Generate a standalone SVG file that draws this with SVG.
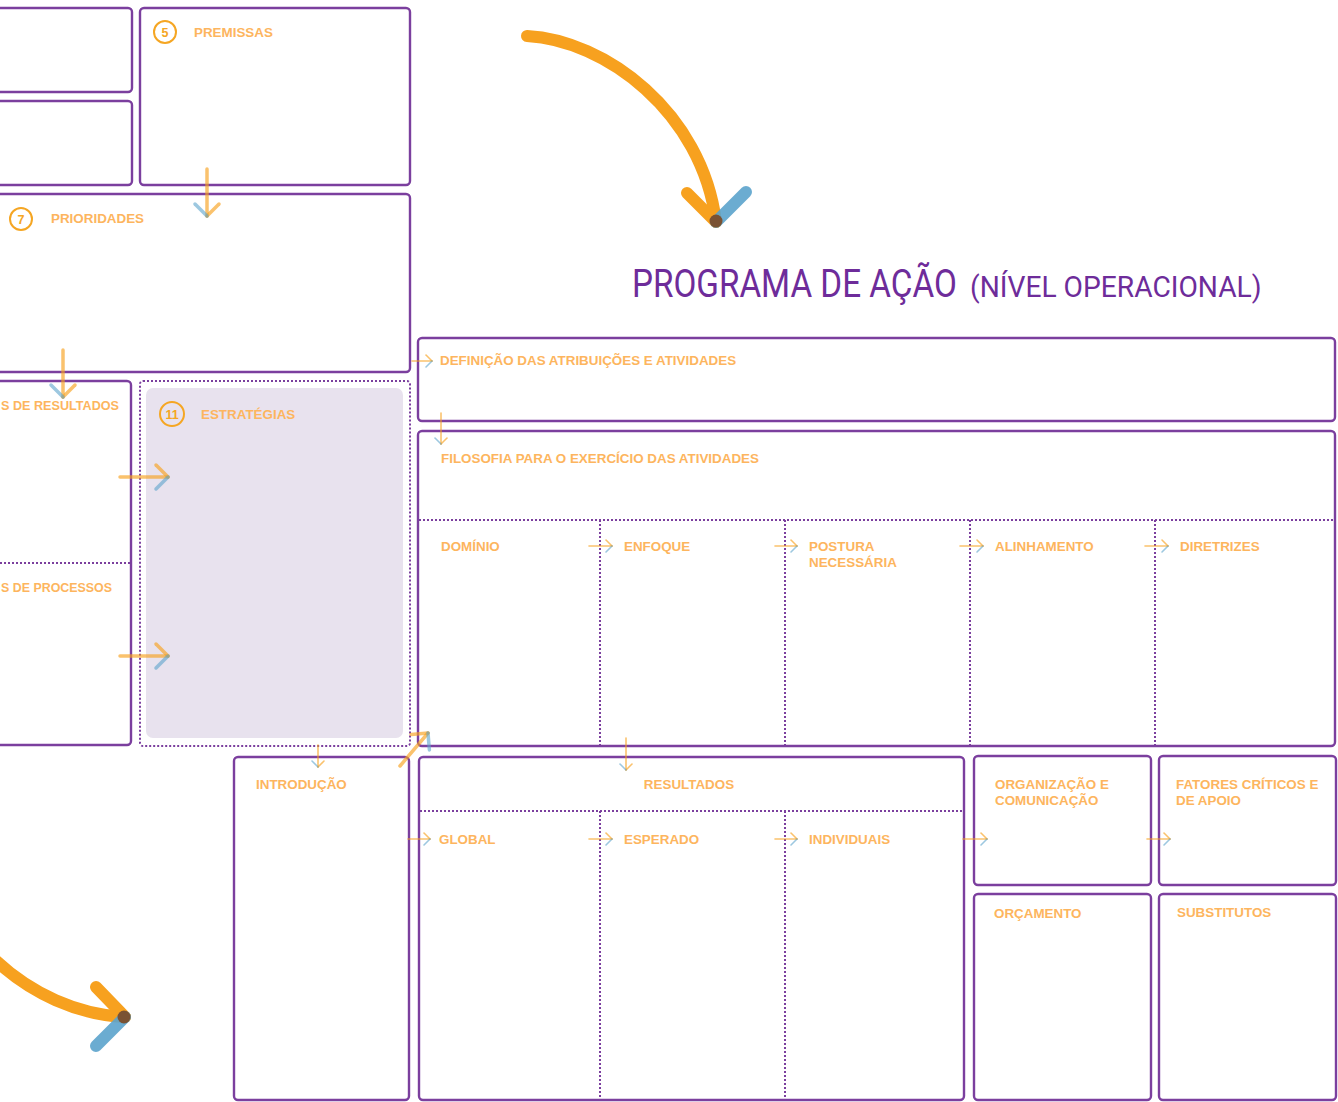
<svg xmlns="http://www.w3.org/2000/svg" width="1338" height="1102" viewBox="0 0 1338 1102">
<style>
.box{fill:#fff;stroke:#7B3F9E;stroke-width:2.4}
.dot{fill:none;stroke:#7B3F9E;stroke-width:2;stroke-dasharray:2 2}
.lbl{font-family:"Liberation Sans",Arial,sans-serif;font-weight:bold;font-size:13.4px;fill:#FDB55E}
.num{font-family:"Liberation Sans",Arial,sans-serif;font-weight:bold;font-size:12.5px;fill:#F5A623;text-anchor:middle}
.circ{fill:none;stroke:#F5A623;stroke-width:2}
.sm{fill:none;stroke:#F7A11F;stroke-opacity:.65;stroke-width:1.6;stroke-linecap:round}
.md{fill:none;stroke:#F7A11F;stroke-opacity:.65;stroke-width:3.5;stroke-linecap:round}
.big{fill:none;stroke:#F7A11F;stroke-width:12;stroke-linecap:round}
.bigb{fill:none;stroke:#5BA3CC;stroke-opacity:.9;stroke-width:12;stroke-linecap:round}
.title{font-family:Roboto,"Liberation Sans",sans-serif;fill:#6E2C9A}
</style>
<defs>
<marker id="msm" markerUnits="userSpaceOnUse" orient="auto" overflow="visible" markerWidth="1" markerHeight="1" refX="0" refY="0">
<path d="M-6,-6 L0,0" fill="none" stroke="#F7A11F" stroke-opacity=".65" stroke-width="1.6" stroke-linecap="round"/>
<path d="M0,0 L-6,6" fill="none" stroke="#5BA3CC" stroke-opacity=".6" stroke-width="1.6" stroke-linecap="round"/>
</marker>
<marker id="mmd" markerUnits="userSpaceOnUse" orient="auto" overflow="visible" markerWidth="1" markerHeight="1" refX="0" refY="0">
<path d="M-12,-12 L0,0" fill="none" stroke="#F7A11F" stroke-opacity=".65" stroke-width="3.5" stroke-linecap="round"/>
<path d="M0,0 L-12,12" fill="none" stroke="#5BA3CC" stroke-opacity=".6" stroke-width="3.5" stroke-linecap="round"/>
</marker>
</defs>
<rect width="1338" height="1102" fill="#fff"/>

<g id="box-top-left-1"><rect class="box" x="-20" y="8" width="152" height="84" rx="4"/></g>
<g id="box-top-left-2"><rect class="box" x="-20" y="101" width="152" height="84" rx="4"/></g>
<g id="node-premissas">
<rect class="box" x="140" y="8" width="270" height="177" rx="4"/>
<circle class="circ" cx="165" cy="32" r="11"/>
<text class="num" x="165" y="36.5">5</text>
<text class="lbl" x="194" y="37">PREMISSAS</text>
</g>
<g id="node-prioridades">
<rect class="box" x="-20" y="194" width="430" height="178" rx="4"/>
<circle class="circ" cx="21" cy="219" r="11"/>
<text class="num" x="21" y="223.5">7</text>
<text class="lbl" x="51" y="223">PRIORIDADES</text>
</g>
<g id="node-indicadores">
<rect class="box" x="-20" y="381" width="151" height="364" rx="4"/>
<line class="dot" x1="-20" y1="563" x2="130" y2="563"/>
<text class="lbl" x="1" y="410" textLength="118" lengthAdjust="spacingAndGlyphs">S DE RESULTADOS</text>
<text class="lbl" x="1" y="592" textLength="111" lengthAdjust="spacingAndGlyphs">S DE PROCESSOS</text>
</g>
<g id="node-estrategias">
<rect class="dot" x="140" y="381" width="270" height="365" rx="3"/>
<rect x="146" y="388" width="257" height="350" rx="7" fill="#E8E2EE"/>
<circle class="circ" cx="172" cy="414" r="12"/>
<text class="num" x="172" y="418.5" font-size="11.5">11</text>
<text class="lbl" x="201" y="419">ESTRATÉGIAS</text>
</g>

<g id="title">
<text class="title" transform="translate(632,297) scale(0.875,1)" font-size="38">PROGRAMA DE AÇÃO</text>
<text class="title" transform="translate(970,297) scale(0.94,1)" font-size="30">(NÍVEL OPERACIONAL)</text>
</g>

<g id="node-definicao">
<rect class="box" x="418" y="338" width="917" height="83" rx="4"/>
<text class="lbl" x="440" y="365">DEFINIÇÃO DAS ATRIBUIÇÕES E ATIVIDADES</text>
</g>
<g id="node-filosofia">
<rect class="box" x="418" y="431" width="917" height="315" rx="4"/>
<line class="dot" x1="419" y1="520" x2="1334" y2="520"/>
<line class="dot" x1="600" y1="520" x2="600" y2="745"/>
<line class="dot" x1="785" y1="520" x2="785" y2="745"/>
<line class="dot" x1="970" y1="520" x2="970" y2="745"/>
<line class="dot" x1="1155" y1="520" x2="1155" y2="745"/>
<text class="lbl" x="441" y="463">FILOSOFIA PARA O EXERCÍCIO DAS ATIVIDADES</text>
<text class="lbl" x="441" y="551">DOMÍNIO</text>
<text class="lbl" x="624" y="551">ENFOQUE</text>
<text class="lbl" x="809" y="551">POSTURA</text>
<text class="lbl" x="809" y="567">NECESSÁRIA</text>
<text class="lbl" x="995" y="551">ALINHAMENTO</text>
<text class="lbl" x="1180" y="551">DIRETRIZES</text>
</g>
<g id="node-introducao">
<rect class="box" x="234" y="757" width="175" height="343" rx="4"/>
<text class="lbl" x="256" y="789">INTRODUÇÃO</text>
</g>
<g id="node-resultados">
<rect class="box" x="419" y="757" width="545" height="343" rx="4"/>
<line class="dot" x1="420" y1="811" x2="963" y2="811"/>
<line class="dot" x1="600" y1="811" x2="600" y2="1100"/>
<line class="dot" x1="785" y1="811" x2="785" y2="1100"/>
<text class="lbl" x="689" y="789" text-anchor="middle">RESULTADOS</text>
<text class="lbl" x="439" y="844">GLOBAL</text>
<text class="lbl" x="624" y="844">ESPERADO</text>
<text class="lbl" x="809" y="844">INDIVIDUAIS</text>
</g>
<g id="node-organizacao">
<rect class="box" x="974" y="756" width="177" height="129" rx="4"/>
<text class="lbl" x="995" y="789">ORGANIZAÇÃO E</text>
<text class="lbl" x="995" y="805">COMUNICAÇÃO</text>
</g>
<g id="node-fatores">
<rect class="box" x="1159" y="756" width="177" height="129" rx="4"/>
<text class="lbl" x="1176" y="789">FATORES CRÍTICOS E</text>
<text class="lbl" x="1176" y="805">DE APOIO</text>
</g>
<g id="node-orcamento">
<rect class="box" x="974" y="894" width="177" height="206" rx="4"/>
<text class="lbl" x="994" y="918">ORÇAMENTO</text>
</g>
<g id="node-substitutos">
<rect class="box" x="1159" y="894" width="177" height="206" rx="4"/>
<text class="lbl" x="1177" y="917">SUBSTITUTOS</text>
</g>

<g id="connectors">
<path class="md" d="M207,169 V216" marker-end="url(#mmd)"/>
<path class="md" d="M63,350 V397" marker-end="url(#mmd)"/>
<path class="md" d="M120,477 H168" marker-end="url(#mmd)"/>
<path class="md" d="M120,656 H168" marker-end="url(#mmd)"/>
<path class="sm" d="M412,361 H432" marker-end="url(#msm)"/>
<path class="sm" d="M441,413 V444" marker-end="url(#msm)"/>
<path class="sm" d="M589,546 H612" marker-end="url(#msm)"/>
<path class="sm" d="M775,546 H797" marker-end="url(#msm)"/>
<path class="sm" d="M960,546 H983" marker-end="url(#msm)"/>
<path class="sm" d="M1145,546 H1168" marker-end="url(#msm)"/>
<path class="sm" d="M318,745 V767" marker-end="url(#msm)"/>
<path class="md" d="M400,766 L428,733" marker-end="url(#mmd)"/>
<path class="sm" d="M626,738 V770" marker-end="url(#msm)"/>
<path class="sm" d="M408,839 H430" marker-end="url(#msm)"/>
<path class="sm" d="M589,839 H612" marker-end="url(#msm)"/>
<path class="sm" d="M775,839 H797" marker-end="url(#msm)"/>
<path class="sm" d="M963,839 H987" marker-end="url(#msm)"/>
<path class="sm" d="M1147,839 H1170" marker-end="url(#msm)"/>
</g>

<g id="big-arrow-top">
<path class="big" d="M527,36 C605,40 702,112 716,222"/>
<path class="big" d="M687,193 L716,222"/>
<path class="bigb" d="M716,222 L746,192"/>
<circle cx="716" cy="221" r="6.5" fill="#7A5233"/>
</g>
<g id="big-arrow-bottom">
<path class="big" d="M-10,955 C30,995 80,1015 125,1017"/>
<path class="big" d="M96,987 L125,1017"/>
<path class="bigb" d="M125,1017 L96,1046"/>
<circle cx="124" cy="1017" r="6.5" fill="#7A5233"/>
</g>
</svg>
